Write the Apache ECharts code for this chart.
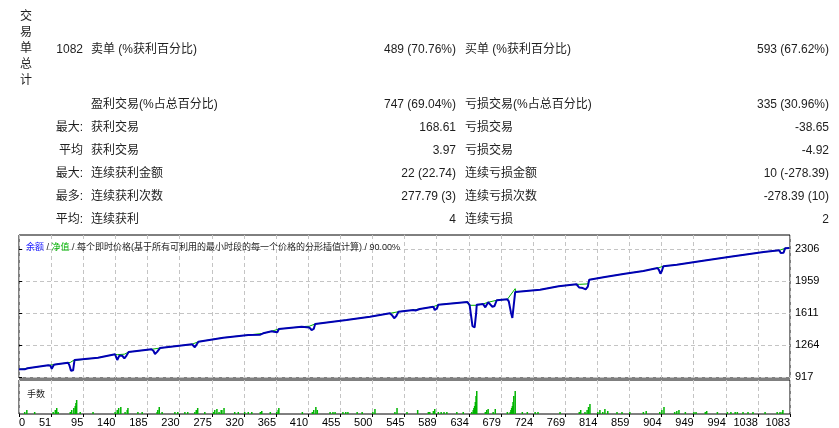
<!DOCTYPE html>
<html><head><meta charset="utf-8">
<script src="https://cdn.jsdelivr.net/npm/echarts@6/dist/echarts.min.js"></script>
<style>html,body{margin:0;padding:0;background:#fff}#c{width:839px;height:428px}</style>
</head><body><div id="c"></div>
<script>
// ---- data ----
const xTickLabels = ['0','51','95','140','185','230','275','320','365','410','455','500','545','589','634','679','724','769','814','859','904','949','994','1038','1083'];
const yTickValues = [917, 1264, 1611, 1959, 2306];

const balanceTrades = [0,8,10,12,41,44,46,49,53,69,71,73,76,78,111,135,138,141,145,148,151,154,186,189,191,194,198,243,247,252,287,322,339,343,355,358,360,363,365,397,408,411,414,416,460,493,521,524,527,530,533,554,557,559,563,582,584,587,589,630,633,637,640,642,643,652,655,659,665,668,671,686,688,691,693,695,697,732,758,783,787,792,796,799,801,823,851,877,897,899,901,903,905,924,961,999,1046,1068,1070,1074,1076,1082];
const balanceValues = [1000,1000,982,1012,1044,1040,1007,1050,1055,1073,1040,985,990,1102,1127,1164,1102,1150,1148,1120,1150,1189,1218,1200,1167,1190,1232,1273,1240,1301,1345,1374,1377,1392,1415,1410,1396,1405,1439,1464,1455,1428,1440,1494,1537,1573,1610,1590,1556,1580,1627,1646,1640,1621,1657,1682,1646,1660,1704,1733,1700,1470,1458,1600,1704,1710,1675,1730,1682,1690,1752,1762,1740,1620,1559,1570,1842,1867,1904,1926,1890,1885,1870,1900,1976,2005,2041,2070,2103,2080,2041,2070,2121,2139,2182,2226,2277,2295,2266,2270,2317,2320];

const equityTrades = [0,12,41,53,69,72,76,78,111,135,138,148,154,186,198,243,252,287,322,343,355,365,397,408,416,460,493,521,533,554,563,582,589,629,632,643,652,659,671,686,688,697,698,732,758,783,787,799,801,823,851,877,897,905,924,961,999,1046,1068,1076,1082];
const equityValues = [1000,1012,1044,1055,1073,1075,1095,1110,1127,1164,1160,1165,1189,1218,1232,1273,1301,1345,1374,1392,1415,1439,1464,1470,1494,1537,1573,1610,1627,1646,1657,1682,1704,1733,1697,1697,1712,1730,1752,1762,1780,1878,1842,1867,1904,1926,1925,1930,1976,2005,2041,2070,2103,2121,2139,2182,2226,2277,2295,2317,2320];

const lotTrades = [8,11,22,48,51,53,55,72,74,77,79,80,81,86,104,135,138,140,143,149,152,153,167,173,194,195,197,201,219,223,233,237,247,249,251,261,273,275,278,281,284,285,288,303,308,317,322,327,339,341,353,362,364,365,398,412,414,417,419,437,441,444,455,459,462,475,482,497,500,528,531,545,560,575,577,582,584,589,593,597,601,615,624,636,638,639,640,641,642,643,655,657,659,666,669,686,690,691,692,693,694,695,697,707,714,725,729,760,787,789,795,798,800,802,813,816,820,823,827,840,847,858,877,881,900,903,906,921,924,927,936,948,951,964,966,981,995,1000,1006,1009,1017,1024,1031,1048,1065,1069,1072,1073];
const lotValues = [0.01,0.02,0.01,0.01,0.02,0.03,0.01,0.01,0.02,0.03,0.04,0.055,0.07,0.01,0.01,0.01,0.02,0.03,0.035,0.01,0.02,0.03,0.01,0.01,0.01,0.02,0.035,0.01,0.01,0.01,0.01,0.01,0.01,0.02,0.03,0.01,0.01,0.02,0.025,0.01,0.02,0.02,0.03,0.01,0.01,0.01,0.01,0.01,0.01,0.015,0.01,0.01,0.02,0.03,0.01,0.01,0.02,0.035,0.02,0.01,0.01,0.01,0.01,0.01,0.01,0.01,0.01,0.01,0.025,0.01,0.03,0.01,0.02,0.01,0.01,0.015,0.025,0.01,0.01,0.01,0.01,0.01,0.01,0.01,0.02,0.03,0.04,0.06,0.09,0.115,0.01,0.02,0.025,0.01,0.025,0.01,0.01,0.02,0.03,0.04,0.06,0.09,0.115,0.01,0.01,0.01,0.01,0.01,0.01,0.02,0.01,0.02,0.035,0.05,0.01,0.02,0.01,0.025,0.015,0.01,0.01,0.01,0.01,0.015,0.01,0.02,0.035,0.01,0.015,0.02,0.01,0.01,0.01,0.01,0.015,0.01,0.01,0.01,0.01,0.01,0.01,0.01,0.01,0.01,0.01,0.01,0.01,0.02,0.03];

const statRowLabels = ['', '最大:', '平均', '最大:', '最多:', '平均:'];
const winLabels = ['盈利交易(%占总百分比)', '获利交易', '获利交易', '连续获利金额', '连续获利次数', '连续获利'];
const winValues = ['747 (69.04%)', '168.61', '3.97', '22 (22.74)', '277.79 (3)', '4'];
const lossLabels = ['亏损交易(%占总百分比)', '亏损交易', '亏损交易', '连续亏损金额', '连续亏损次数', '连续亏损'];
const lossValues = ['335 (30.96%)', '-38.65', '-4.92', '10 (-278.39)', '-278.39 (10)', '2'];
const totalTitle = '交易单总计';
const totalValue = '1082';
const sellLabel = '卖单 (%获利百分比)', sellValue = '489 (70.76%)';
const buyLabel = '买单 (%获利百分比)', buyValue = '593 (67.62%)';

// ---- build ----
const FONT = "'Liberation Sans','Noto Sans CJK SC',sans-serif";
const TXT = '#1e1e1e';
const pairs = (a, b) => a.map((x, i) => [x, b[i]]);
const XSTEP = 1083 / 24;

const graphics = [];
function txt(x, y, s, align, size) {
  graphics.push({ type: 'text', x: x, y: y, silent: true,
    style: { text: s, fill: TXT, font: (size || 12) + 'px ' + FONT, textAlign: align, textVerticalAlign: 'middle' } });
}
graphics.push({ type: 'text', x: 26, y: 9, silent: true,
  style: { text: totalTitle.split('').join('\n'), fill: TXT, font: '12px ' + FONT, lineHeight: 16, textAlign: 'center', textVerticalAlign: 'top' } });
const row1 = 49.5;
txt(83, row1, totalValue, 'right');
txt(91, row1, sellLabel, 'left');
txt(456, row1, sellValue, 'right');
txt(465, row1, buyLabel, 'left');
txt(829, row1, buyValue, 'right');
const rowsY = [105, 128, 151, 173.5, 197, 219.5];
rowsY.forEach((y, i) => {
  if (statRowLabels[i]) txt(83, y, statRowLabels[i], 'right');
  txt(91, y, winLabels[i], 'left');
  txt(456, y, winValues[i], 'right');
  txt(465, y, lossLabels[i], 'left');
  txt(829, y, lossValues[i], 'right');
});

const dashed = { show: true, lineStyle: { color: '#c4c4c4', type: [4, 3], width: 1 } };
const chart = echarts.init(document.getElementById('c'), null, { renderer: 'canvas' });
chart.setOption({
  animation: false,
  backgroundColor: '#fff',
  title: [{
    text: '{b|余额} / {g|净值} / 每个即时价格(基于所有可利用的最小时段的每一个价格的分形插值计算) / 90.00%',
    left: 21, top: 238,
    textStyle: { fontSize: 9, fontWeight: 'normal', color: TXT, fontFamily: FONT,
      rich: { b: { color: '#1a1aff', fontSize: 9, fontFamily: FONT }, g: { color: '#00b000', fontSize: 9, fontFamily: FONT } } }
  }, {
    text: '手数', left: 22, top: 385,
    textStyle: { fontSize: 9, fontWeight: 'normal', color: TXT, fontFamily: FONT }
  }],
  graphic: graphics,
  grid: [
    { left: 19, top: 235, width: 771, height: 143, show: true, borderColor: '#000', borderWidth: 1, backgroundColor: 'transparent' },
    { left: 19, top: 380, width: 771, height: 34, show: true, borderColor: '#000', borderWidth: 1, backgroundColor: 'transparent' }
  ],
  xAxis: [
    { type: 'value', gridIndex: 0, min: 0, max: 1083, interval: XSTEP,
      axisLine: { show: false }, axisTick: { show: false }, axisLabel: { show: false }, splitLine: dashed },
    { type: 'value', gridIndex: 1, min: 0, max: 1083, interval: XSTEP,
      axisLine: { show: false },
      axisTick: { show: true, inside: false, length: 3, lineStyle: { color: '#000' } },
      axisLabel: { show: true, margin: 3, fontSize: 11, color: '#000', fontFamily: FONT, align: 'right',
        alignMinLabel: 'left', alignMaxLabel: 'right',
        formatter: v => xTickLabels[Math.round(v / XSTEP)] },
      splitLine: dashed }
  ],
  yAxis: [
    { type: 'value', gridIndex: 0, position: 'right', min: 906, max: 2462,
      axisLine: { show: false },
      axisTick: { show: true, length: 3, customValues: yTickValues, lineStyle: { color: '#000' } },
      axisLabel: { show: true, margin: 5, fontSize: 11, color: '#000', fontFamily: FONT, customValues: yTickValues,
        formatter: v => String(Math.round(v)) },
      splitLine: dashed },
    { type: 'value', gridIndex: 1, min: 0, max: 0.17, show: false, splitLine: { show: false } }
  ],
  series: [
    { type: 'line', xAxisIndex: 0, yAxisIndex: 0, data: pairs(equityTrades, equityValues), showSymbol: false,
      lineStyle: { color: '#00b000', width: 1 }, z: 2 },
    { type: 'line', xAxisIndex: 0, yAxisIndex: 0, data: pairs(balanceTrades, balanceValues), showSymbol: false,
      lineStyle: { color: '#0000b4', width: 2 }, z: 3 },
    { type: 'bar', xAxisIndex: 1, yAxisIndex: 1, data: pairs(lotTrades, lotValues), barWidth: 1.5,
      itemStyle: { color: '#00b400' } }
  ]
});
</script>
</body></html>
